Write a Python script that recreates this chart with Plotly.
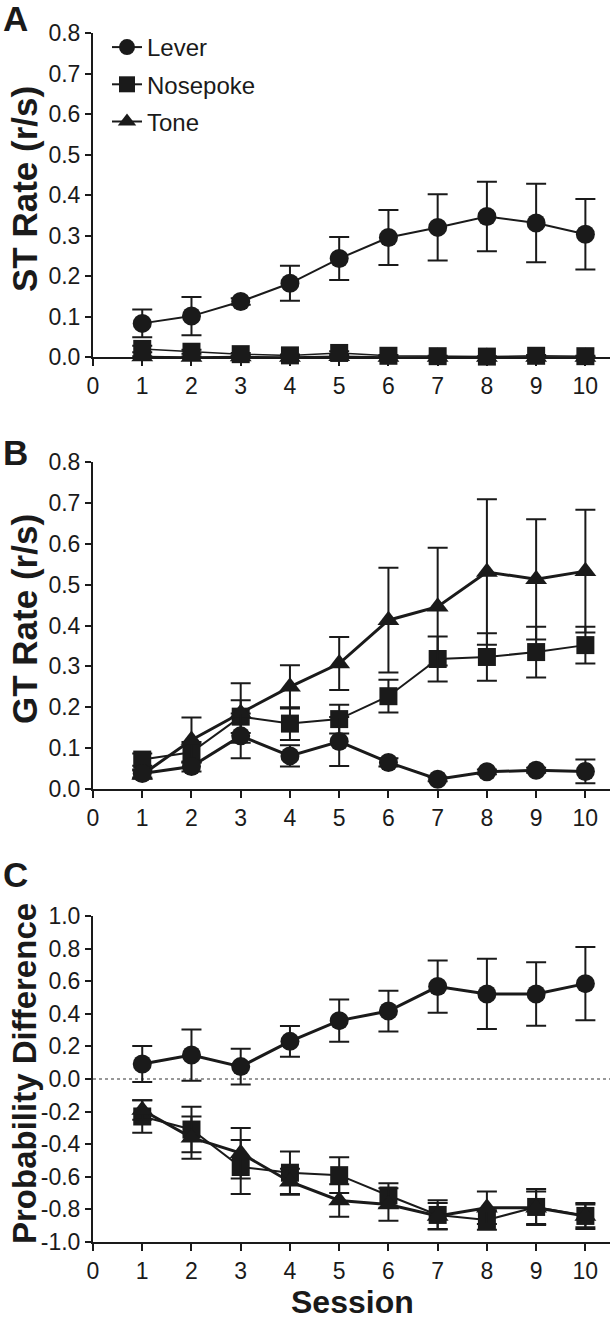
import plotly.graph_objects as go

sessions = [1, 2, 3, 4, 5, 6, 7, 8, 9, 10]

# Panel A: ST Rate (r/s)
st_lever = [0.083, 0.101, 0.137, 0.182, 0.243, 0.295, 0.320, 0.347, 0.331, 0.303]
st_lever_sem = [0.034, 0.047, 0.008, 0.043, 0.053, 0.068, 0.082, 0.086, 0.097, 0.087]
st_nose = [0.020, 0.013, 0.007, 0.004, 0.010, 0.003, 0.002, 0.001, 0.003, 0.002]
st_nose_sem = [0.008, 0.005, 0.003, 0.002, 0.004, 0.002, 0.001, 0.001, 0.002, 0.001]
st_tone = [0.001, 0.000, 0.001, 0.000, 0.002, 0.000, 0.000, 0.000, 0.000, 0.000]
st_tone_sem = [0.001, 0.001, 0.001, 0.000, 0.001, 0.000, 0.000, 0.000, 0.000, 0.000]

# Panel B: GT Rate (r/s)
gt_lever = [0.038, 0.055, 0.130, 0.081, 0.116, 0.065, 0.024, 0.042, 0.046, 0.043]
gt_lever_sem = [0.010, 0.012, 0.055, 0.026, 0.060, 0.010, 0.005, 0.006, 0.006, 0.029]
gt_nose = [0.072, 0.090, 0.177, 0.160, 0.171, 0.227, 0.318, 0.323, 0.335, 0.352]
gt_nose_sem = [0.015, 0.025, 0.040, 0.040, 0.035, 0.040, 0.055, 0.058, 0.062, 0.045]
gt_tone = [0.035, 0.120, 0.186, 0.250, 0.307, 0.413, 0.446, 0.531, 0.513, 0.533]
gt_tone_sem = [0.010, 0.055, 0.073, 0.053, 0.065, 0.128, 0.144, 0.178, 0.147, 0.150]

# Panel C: Probability Difference
pd_lever = [0.092, 0.147, 0.076, 0.231, 0.358, 0.417, 0.567, 0.522, 0.522, 0.585]
pd_lever_sem = [0.110, 0.157, 0.110, 0.094, 0.130, 0.125, 0.160, 0.215, 0.195, 0.225]
pd_nose = [-0.230, -0.310, -0.540, -0.575, -0.590, -0.715, -0.834, -0.865, -0.785, -0.840]
pd_nose_sem = [0.100, 0.140, 0.165, 0.130, 0.110, 0.075, 0.090, 0.060, 0.110, 0.080]
pd_tone = [-0.190, -0.360, -0.455, -0.630, -0.745, -0.770, -0.840, -0.790, -0.790, -0.840]
pd_tone_sem = [0.060, 0.130, 0.155, 0.080, 0.100, 0.100, 0.080, 0.100, 0.100, 0.070]

x_ticks = [0, 1, 2, 3, 4, 5, 6, 7, 8, 9, 10]
rate_ticks = [0.0, 0.1, 0.2, 0.3, 0.4, 0.5, 0.6, 0.7, 0.8]
pd_ticks = [-1.0, -0.8, -0.6, -0.4, -0.2, 0.0, 0.2, 0.4, 0.6, 0.8, 1.0]

INK = "#1a1a1a"
FONT = "Liberation Sans, Arial, Helvetica, sans-serif"
W, H = 610, 1325

fig = go.Figure()

def add(y, sem, name, symbol, size, lw, xa, ya, show):
    fig.add_trace(go.Scatter(
        x=sessions, y=y, name=name, mode="lines+markers",
        marker=dict(symbol=symbol, size=size, color=INK),
        line=dict(color=INK, width=lw),
        error_y=dict(type="data", array=sem, visible=True, thickness=2,
                     width=10, color=INK),
        xaxis=xa, yaxis=ya, showlegend=show, legendgroup=name,
        cliponaxis=False,
    ))

# Panel A
add(st_tone, st_tone_sem, "Tone", "triangle-up", 19, 1.5, "x", "y", False)
add(st_nose, st_nose_sem, "Nosepoke", "square", 18, 1.5, "x", "y", False)
add(st_lever, st_lever_sem, "Lever", "circle", 19, 2, "x", "y", False)
# Panel B
add(gt_nose, gt_nose_sem, "Nosepoke", "square", 18, 2, "x2", "y2", False)
add(gt_tone, gt_tone_sem, "Tone", "triangle-up", 19, 3, "x2", "y2", False)
add(gt_lever, gt_lever_sem, "Lever", "circle", 19, 3, "x2", "y2", False)
# Panel C
add(pd_nose, pd_nose_sem, "Nosepoke", "square", 18, 2, "x3", "y3", False)
add(pd_tone, pd_tone_sem, "Tone", "triangle-up", 19, 3, "x3", "y3", False)
add(pd_lever, pd_lever_sem, "Lever", "circle", 19, 3, "x3", "y3", False)

# legend entries (no data drawn)
for name, sym in [("Lever", "circle"), ("Nosepoke", "square"), ("Tone", "triangle-up")]:
    fig.add_trace(go.Scatter(
        x=[None], y=[None], name=name, mode="lines+markers",
        marker=dict(symbol=sym, size=16, color=INK),
        line=dict(color=INK, width=2), xaxis="x", yaxis="y",
        legendgroup=name + "_lg", showlegend=True,
    ))

def px_x(p):
    return p / W

def px_y(p):
    return 1 - p / H

xdom = [px_x(93), 1.0]
def ydom(top_px, bot_px):
    return [px_y(bot_px), px_y(top_px)]

axis_common = dict(showline=True, linewidth=2, linecolor=INK, ticks="outside",
                   tickwidth=2, tickcolor=INK, showgrid=False, zeroline=False,
                   automargin=False,
                   tickfont=dict(family=FONT, size=23, color=INK))

def xax(anchor):
    return dict(axis_common, domain=xdom, range=[0, 10.5], tickvals=x_ticks,
                ticklen=7, anchor=anchor)

def yax(anchor, dom, rng, ticks):
    return dict(axis_common, domain=dom, range=rng, tickvals=ticks,
                ticktext=[f"{v:.1f}" for v in ticks], ticklen=6, anchor=anchor)

fig.update_layout(
    template="none",
    width=W, height=H, autosize=False,
    margin=dict(l=0, r=0, t=0, b=0, pad=0, autoexpand=False),
    paper_bgcolor="white", plot_bgcolor="white",
    font=dict(family=FONT, color=INK),
    xaxis=xax("y"), yaxis=yax("x", ydom(33, 357), [0, 0.8], rate_ticks),
    xaxis2=xax("y2"), yaxis2=yax("x2", ydom(462, 789), [0, 0.8], rate_ticks),
    xaxis3=xax("y3"), yaxis3=yax("x3", ydom(916, 1242), [-1, 1], pd_ticks),
    legend=dict(x=px_x(107), y=px_y(25), xanchor="left", yanchor="top",
                font=dict(family=FONT, size=24, color=INK),
                bgcolor="rgba(0,0,0,0)", tracegroupgap=3, itemwidth=30),
    shapes=[dict(type="line", xref="x3", yref="y3", x0=0, x1=10.5, y0=0, y1=0,
                 line=dict(color="#777", width=1.5, dash="dot"), layer="below")],
)

def ann(text, xpx, ypx, size, angle=0):
    fig.add_annotation(text=f"<b>{text}</b>", x=px_x(xpx), y=px_y(ypx),
                       xref="paper", yref="paper", showarrow=False,
                       xanchor="center", yanchor="middle", textangle=angle,
                       font=dict(family=FONT, size=size, color=INK))

ann("A", 15, 18, 35)
ann("B", 15, 452, 35)
ann("C", 15, 874, 35)
ann("ST Rate (r/s)", 24, 189, 35, -90)
ann("GT Rate (r/s)", 24, 619, 35, -90)
ann("Probability Difference", 24, 1074, 33, -90)
ann("Session", 352, 1302, 32)

fig.write_html(
    "out.html",
    config={"displayModeBar": False},
    post_script="document.body.style.margin='0';document.body.style.padding='0';",
)
